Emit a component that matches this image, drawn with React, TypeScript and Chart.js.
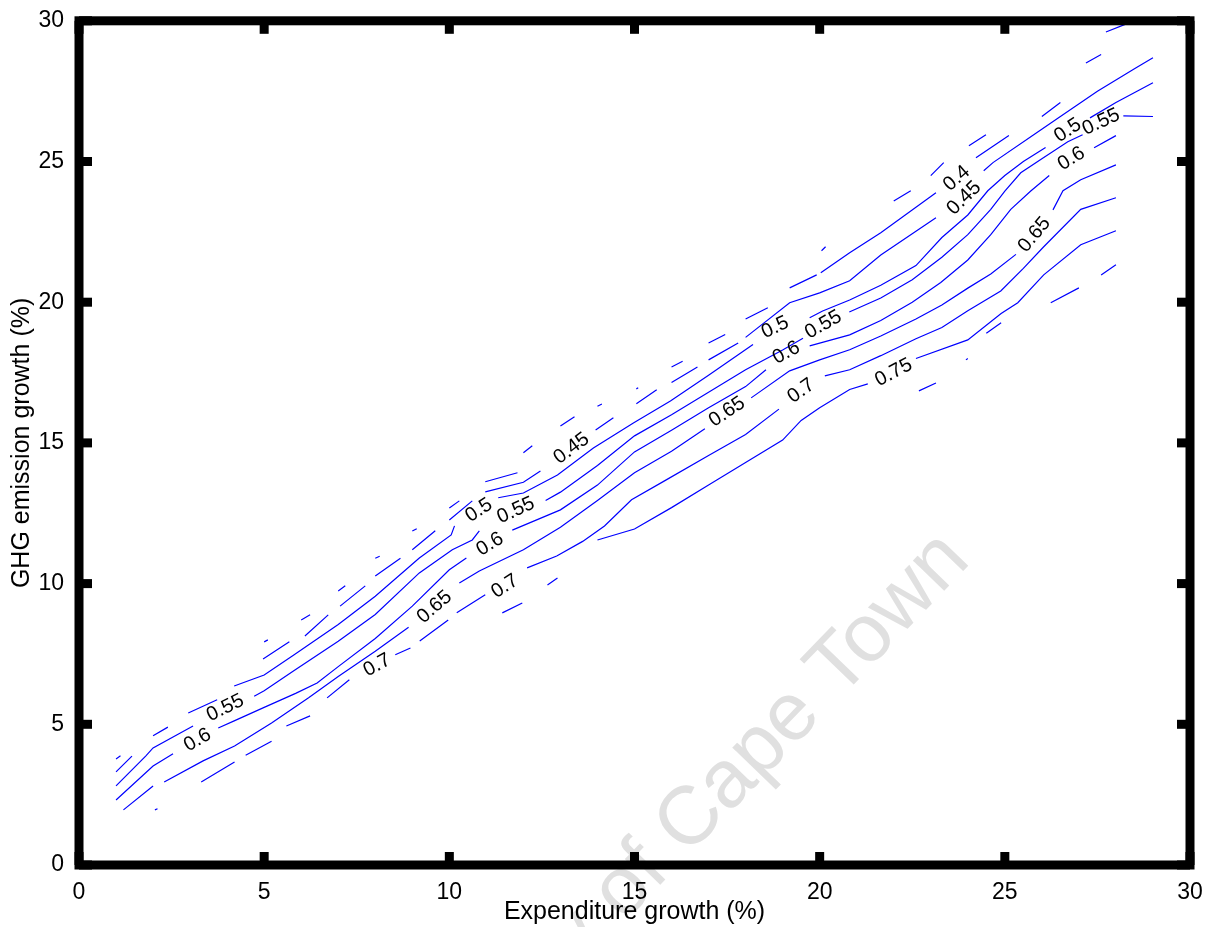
import React, { useEffect, useRef } from "react";
import { Chart, registerables } from "chart.js";

Chart.register(...registerables);

type Pt = [number, number] | null;

const xTickValues = [0, 5, 10, 15, 20, 25, 30];
const yTickValues = [0, 5, 10, 15, 20, 25, 30];
const xTitle = "Expenditure growth (%)";
const yTitle = "GHG emission growth (%)";
const watermarkText = "University of Cape Town";

const contourLevels = [0.35, 0.4, 0.45, 0.5, 0.55, 0.6, 0.65, 0.7, 0.75, 0.8];

const level035: Pt[] = [
  [20.05, 21.83], [20.16, 21.97], null,
  [22.0, 23.6], [22.46, 23.96], null,
  [23.0, 24.5], [23.35, 24.96], null,
  [24.03, 25.56], [24.49, 25.95], null,
  [27.73, 29.6], [28.3, 29.9],
];

const level040: Pt[] = [
  [5, 7.93], [5.1, 8.0], null,
  [6, 8.71], [6.24, 8.89], null,
  [7, 9.74], [7.19, 9.92], null,
  [8, 10.9], [8.12, 10.97], null,
  [9, 11.87], [9.12, 11.95], null,
  [10, 12.69], [10.27, 12.94], null,
  [10.97, 13.62], [11.84, 13.94], null,
  [12, 14.65], [12.24, 14.9], null,
  [13, 15.6], [13.38, 15.93], null,
  [14, 16.3], [14.12, 16.38], null,
  [15.05, 16.92], [15.1, 16.96], null,
  [16, 17.7], [16.3, 17.9], null,
  [17, 18.55], [17.45, 18.85], null,
  [18, 19.4], [18.6, 19.8], null,
  [19.19, 20.51], [19.92, 20.97], null,
  [20.03, 21.05], [20.81, 21.76], [21.65, 22.47], [23.14, 23.89], null,
  [24.22, 25.13], [25.11, 25.92], null,
  [26.0, 26.6], [26.5, 27.1], null,
  [27.19, 28.5], [27.6, 28.8],
];

const level045: Pt[] = [
  [1, 3.77], [1.12, 3.88], null,
  [4.97, 7.32], [5.68, 7.93], null,
  [6.1, 8.14], [6.73, 8.89], null,
  [7.05, 9.2], [7.73, 9.92], null,
  [8.0, 10.27], [8.68, 10.9], null,
  [9.0, 11.2], [9.62, 11.88], null,
  [10, 12.26], [10.62, 12.94], null,
  [10.97, 13.26], [12, 13.6], [12.46, 14.0], null,
  [13.95, 15.46], [14.43, 15.89], null,
  [15.05, 16.39], [15.6, 16.89], null,
  [16.0, 17.15], [16.7, 17.7], null,
  [17.0, 17.95], [17.8, 18.55], null,
  [18.0, 18.75], [19.19, 19.98], [20, 20.33], [20.81, 20.76], [21.65, 21.68], [23.14, 23.0], null,
  [24.43, 24.67], [24.68, 24.96], [25.78, 25.95], [26.5, 26.6], [27.5, 27.5], [28.5, 28.3], [29, 28.69],
];

const level050: Pt[] = [
  [1, 3.31], [1.43, 3.87], null,
  [2, 4.59], [2.4, 4.9], null,
  [2.95, 5.4], [3.73, 5.87], null,
  [4.19, 6.36], [5, 6.75], [5.81, 7.47], [7, 8.55], [8, 9.55], [9.19, 10.91], [10.05, 11.73], [10.14, 12.05], null,
  [11.32, 13.05], [12, 13.22], [12.92, 13.86], [13.89, 14.82], [14.97, 15.71], [15.97, 16.49], [17, 17.4], [18.2, 18.5], null,
  [19.73, 19.45], [20.08, 19.69], [20.81, 20.08], [21.65, 20.6], [22.6, 21.3], [23.3, 22.3], [24.0, 23.1], [24.54, 23.96], [25.0, 24.5], [25.5, 25.0], [26.1, 25.5], null,
  [27.3, 26.55], [28, 27.1], [29, 27.8],
];

const level055: Pt[] = [
  [1, 2.81], [1.8, 3.87], [2, 4.16], [3.08, 4.94], null,
  [4.73, 6.0], [5, 6.19], [5.8, 6.9], [7, 7.95], [8, 8.9], [9.19, 10.38], [10.08, 11.2], [10.62, 11.55], [10.81, 11.87], null,
  [12.6, 12.95], [13, 13.25], [14, 14.2], [15, 15.25], [16, 16.0], [17, 16.8], [18, 17.6], [19, 18.3], [19.55, 18.72], null,
  [20.8, 19.65], [21.65, 20.15], [22.5, 20.8], [23.3, 21.6], [24, 22.4], [24.62, 23.3], [25, 23.95], [25.43, 24.6], [26, 25.1], [26.7, 25.7], [27.1, 25.95], null,
  [28.2, 26.62], [29, 26.6],
];

const level060: Pt[] = [
  [1, 2.31], [2, 3.52], [2.54, 3.95], null,
  [3.76, 4.87], [4.19, 5.12], [5, 5.6], [5.85, 6.1], [6.43, 6.47], [7, 7.05], [8, 8.05], [9, 9.2], [10, 10.49], [10.46, 10.91], null,
  [11.7, 11.9], [13, 12.62], [14, 13.5], [15, 14.68], [16, 15.45], [17, 16.25], [18, 17.0], [18.55, 17.6], null,
  [19.73, 18.45], [20.81, 18.84], [21.65, 19.35], [22.5, 20.0], [23.27, 20.7], [24, 21.5], [24.62, 22.4], [25.16, 23.3], [25.7, 23.95], [26.2, 24.5], null,
  [27.41, 25.49], [28, 25.92],
];

const level065: Pt[] = [
  [1.2, 1.96], [2, 2.81], null,
  [2.3, 2.95], [3.35, 3.7], [4.2, 4.23], [5.2, 5.05], [6.2, 5.94], [7, 6.7], [8, 7.6], [8.9, 8.45], null,
  [10.27, 10.02], [10.81, 10.45], [12, 11.2], [13, 12.0], [14, 12.95], [15, 13.94], [16, 14.7], [16.9, 15.5], null,
  [18.15, 16.6], [19.19, 17.56], [20, 17.95], [20.81, 18.31], [21.65, 18.8], [22.6, 19.4], [23.3, 19.9], [24, 20.5], [24.62, 21.0], [25.3, 21.7], null,
  [26.3, 23.28], [26.57, 23.96], [27.05, 24.35], [28, 24.88],
];

const level070: Pt[] = [
  [2.05, 1.96], [2.12, 2.0], null,
  [3.3, 2.95], [4.2, 3.66], null,
  [4.5, 3.9], [5.2, 4.4], null,
  [5.6, 4.94], [6.24, 5.3], null,
  [6.7, 5.94], [7.3, 6.58], null,
  [8.54, 7.47], [8.95, 7.71], null,
  [9.2, 7.96], [9.97, 8.71], null,
  [10.2, 8.96], [10.97, 9.6], null,
  [12.1, 10.56], [12.9, 10.98], [13.6, 11.5], [14.19, 12.05], [14.92, 12.98], [15.81, 13.65], [17, 14.55], [18, 15.3], [18.9, 16.2], null,
  [20.14, 17.38], [20.81, 17.6], [21.65, 18.1], [22.6, 18.7], [23.3, 19.1], [24, 19.7], [24.89, 20.4], [25.5, 21.2], [26.05, 21.97], [27.05, 23.3], [28, 23.71],
];

const level075: Pt[] = [
  [11.43, 8.96], [11.97, 9.31], null,
  [12.65, 9.95], [12.92, 10.2], null,
  [14.0, 11.55], [15, 11.94], [16, 12.7], [17, 13.5], [18, 14.3], [19, 15.1], [19.5, 15.8], [20, 16.25], [20.81, 16.9], [21.3, 17.1], null,
  [22.6, 18.0], [24, 18.66], [24.9, 19.6], [25.35, 19.98], [26.05, 20.97], [27.05, 22.04], [28, 22.54],
];

const level080: Pt[] = [
  [22.68, 16.85], [23.14, 17.13], null,
  [23.95, 17.95], [24.0, 18.0], null,
  [24.5, 18.9], [24.9, 19.27], null,
  [26.24, 19.98], [27.0, 20.51], null,
  [27.6, 20.97], [28, 21.33],
];

const contourLines: Pt[][] = [
  level035, level040, level045, level050, level055,
  level060, level065, level070, level075, level080,
];

// contour labels: level, x, y (data units)
const labelLevel = [0.55, 0.6, 0.7, 0.65, 0.7, 0.6, 0.55, 0.5, 0.45, 0.5, 0.55, 0.6, 0.65, 0.7, 0.75, 0.4, 0.45, 0.5, 0.55, 0.6, 0.65];
const labelX = [3.95, 3.2, 8.05, 9.6, 11.5, 11.1, 11.8, 10.8, 13.3, 18.8, 20.1, 19.1, 17.5, 19.5, 22.0, 23.7, 23.9, 26.7, 27.6, 26.8, 25.8];
const labelY = [5.58, 4.44, 7.1, 9.17, 9.9, 11.4, 12.6, 12.6, 14.8, 19.1, 19.2, 18.2, 16.1, 16.85, 17.5, 24.4, 23.7, 26.1, 26.4, 25.1, 22.4];

const FONT = '"Liberation Sans", Arial, Helvetica, sans-serif';

function toData(pts: Pt[]) {
  const out: { x: number; y: number | null }[] = [];
  let lastX = 0;
  for (const p of pts) {
    if (p === null) {
      out.push({ x: lastX, y: null });
    } else {
      lastX = p[0];
      out.push({ x: p[0], y: p[1] });
    }
  }
  return out;
}

const decorPlugin = {
  id: "decor",
  beforeDraw(chart: any) {
    const { ctx } = chart;
    ctx.save();
    ctx.font = `82px ${FONT}`;
    ctx.fillStyle = "#e0e0e0";
    ctx.translate(972, 562);
    ctx.rotate((-46 * Math.PI) / 180);
    ctx.textAlign = "right";
    ctx.textBaseline = "alphabetic";
    ctx.fillText(watermarkText, 0, 0);
    ctx.restore();
  },
  afterDatasetsDraw(chart: any) {
    const { ctx, chartArea: a, scales } = chart;
    const xs = scales.x;
    const ys = scales.y;
    ctx.save();
    // contour labels
    ctx.font = `20px ${FONT}`;
    ctx.fillStyle = "#000";
    ctx.textAlign = "center";
    ctx.textBaseline = "middle";
    for (let k = 0; k < labelLevel.length; k++) {
      const lev = labelLevel[k];
      const lx = labelX[k];
      const ly = labelY[k];
      const line = contourLines[contourLevels.indexOf(lev)];
      let ang = -0.5;
      if (line) {
        for (let i = 1; i < line.length - 1; i++) {
          if (line[i] === null) {
            const p = line[i - 1];
            const q = line[i + 1];
            if (p && q && p[0] <= lx && q[0] >= lx) {
              ang = Math.atan2(
                ys.getPixelForValue(q[1]) - ys.getPixelForValue(p[1]),
                xs.getPixelForValue(q[0]) - xs.getPixelForValue(p[0])
              );
              break;
            }
          }
        }
      }
      ctx.save();
      ctx.translate(xs.getPixelForValue(lx), ys.getPixelForValue(ly));
      ctx.rotate(ang);
      ctx.fillText(String(lev), 0, 0);
      ctx.restore();
    }
    // frame
    ctx.strokeStyle = "#000";
    ctx.lineWidth = 9;
    ctx.lineJoin = "miter";
    ctx.strokeRect(a.left, a.top, a.right - a.left, a.bottom - a.top);
    // ticks (inward, all sides)
    ctx.fillStyle = "#000";
    const tw = 9;
    const tl = 13;
    for (const v of xTickValues) {
      const px = xs.getPixelForValue(v);
      ctx.fillRect(px - tw / 2, a.bottom - tl, tw, tl);
      ctx.fillRect(px - tw / 2, a.top, tw, tl);
    }
    for (const v of yTickValues) {
      const py = ys.getPixelForValue(v);
      ctx.fillRect(a.left, py - tw / 2, tl, tw);
      ctx.fillRect(a.right - tl, py - tw / 2, tl, tw);
    }
    ctx.restore();
  },
};

export default function App() {
  const ref = useRef<HTMLCanvasElement | null>(null);
  useEffect(() => {
    document.body.style.margin = "0";
    const canvas = ref.current;
    if (!canvas) return;
    const chart = new Chart(canvas, {
      type: "line",
      data: {
        datasets: contourLines.map((pts, i) => ({
          label: String(contourLevels[i]),
          data: toData(pts),
          borderColor: "#0000ff",
          borderWidth: 1.2,
          pointRadius: 0,
          fill: false,
          spanGaps: false,
          tension: 0,
        })),
      },
      options: {
        responsive: false,
        animation: false,
        devicePixelRatio: 1,
        events: [],
        layout: { padding: { top: 20, right: 22, left: 0, bottom: 0 } },
        scales: {
          x: {
            type: "linear",
            min: 0,
            max: 30,
            afterBuildTicks: (s: any) => {
              s.ticks = xTickValues.map((v) => ({ value: v }));
            },
            afterFit: (s: any) => {
              s.height = 62;
            },
            grid: { display: false },
            border: { display: false },
            ticks: {
              color: "#000",
              font: { family: FONT, size: 23 },
              padding: 6,
              maxRotation: 0,
              autoSkip: false,
            },
            title: {
              display: true,
              text: xTitle,
              color: "#000",
              font: { family: FONT, size: 25 },
              padding: { top: 0, bottom: 0 },
            },
          },
          y: {
            type: "linear",
            min: 0,
            max: 30,
            afterBuildTicks: (s: any) => {
              s.ticks = yTickValues.map((v) => ({ value: v }));
            },
            afterFit: (s: any) => {
              s.width = 79;
            },
            grid: { display: false },
            border: { display: false },
            ticks: {
              color: "#000",
              font: { family: FONT, size: 23 },
              padding: 7,
              autoSkip: false,
            },
            title: {
              display: true,
              text: yTitle,
              color: "#000",
              font: { family: FONT, size: 25 },
              padding: { top: 7, bottom: 0 },
            },
          },
        },
        plugins: {
          legend: { display: false },
          tooltip: { enabled: false },
        },
      } as any,
      plugins: [decorPlugin],
    });
    return () => chart.destroy();
  }, []);
  return (
    <canvas
      ref={ref}
      width={1212}
      height={927}
      style={{ display: "block", width: 1212, height: 927 }}
    />
  );
}
